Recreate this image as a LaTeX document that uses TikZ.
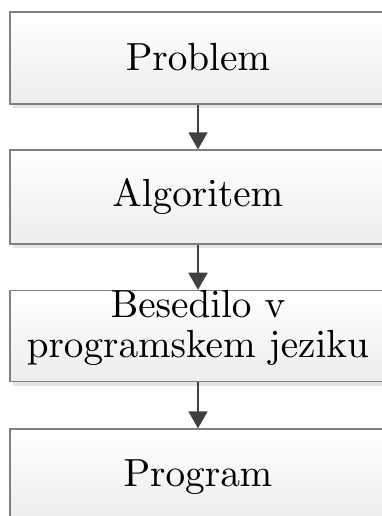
\documentclass[tikz,border=0pt]{standalone}
\usetikzlibrary{arrows.meta,shadows}
\font\boxfont=cmr10 at 39.2pt
\begin{document}
\begin{tikzpicture}[x=1pt,y=-1pt,
  box/.style={draw=black!50, line width=1.3pt,
    top color=white, bottom color=black!7,
    minimum width=376pt, inner sep=0pt, align=center,
    font={\fontsize{39}{40}\selectfont\boxfont},
    drop shadow={shadow xshift=3pt, shadow yshift=-4pt, fill=black!10, opacity=1}},
  flow/.style={draw=black!75, line width=1.8pt,
    -{Triangle[width=19pt,length=17pt]}}]
  \useasboundingbox (0,0) rectangle (381,516);
  \node[box, minimum height=92pt, text depth=3pt] (problem) at (198,58) {Problem};
  \node[box, minimum height=94pt] (alg) at (198,197) {Algoritem};
  \node[box, minimum height=90pt, text depth=24pt] (src) at (198,336) {Besedilo v\\programskem jeziku};
  \node[box, minimum height=92pt, text depth=3pt] (prog) at (198,475) {Program};
  \draw[flow] (problem) -- (alg);
  \draw[flow] (alg) -- (src);
  \draw[flow] (src) -- (prog);
\end{tikzpicture}
\end{document}
